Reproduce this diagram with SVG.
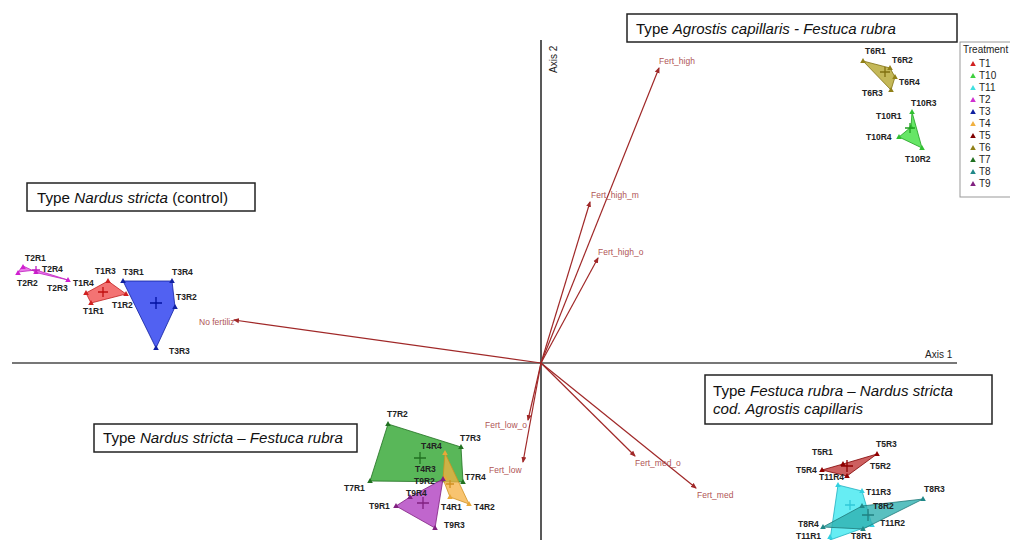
<svg xmlns="http://www.w3.org/2000/svg" xmlns:xlink="http://www.w3.org/1999/xlink" width="1010" height="540" viewBox="0 0 1010 540">
<style>
.pl{font-family:"Liberation Sans",Arial,sans-serif;font-size:8.5px;font-weight:bold;fill:#222}
.vl{font-family:"Liberation Sans",Arial,sans-serif;font-size:8.5px;fill:#b05555}
.vec{stroke:#a02828;stroke-width:1.2;fill:none;marker-end:url(#ah)}
.box{fill:#fff;stroke:#222;stroke-width:1.5}
.bt{font-family:"Liberation Sans",Arial,sans-serif;font-size:15px;fill:#111}
.ax{font-family:"Liberation Sans",Arial,sans-serif;font-size:10px;fill:#222}
.lg{font-family:"Liberation Sans",Arial,sans-serif;font-size:10px;fill:#222}
.cr{stroke-width:1.3;fill:none}
</style>
<defs>
<marker id="ah" markerWidth="6" markerHeight="6" refX="5" refY="3" orient="auto" markerUnits="userSpaceOnUse">
<path d="M0,0.5 L6,3 L0,5.5 Z" fill="#a02828"/>
</marker>
<path id="tri" d="M0,-3 L2.8,2 L-2.8,2 Z"/>
</defs>

<g id="axes">
<line x1="12" y1="363" x2="957" y2="363" stroke="#777" stroke-width="2"/>
<line x1="541" y1="40" x2="541" y2="540" stroke="#222" stroke-width="1.5"/>
<text class="ax" transform="translate(557,73) rotate(-90)">Axis 2</text>
<text class="ax" x="925" y="358">Axis 1</text>
</g>

<g id="connectors">
<line class="vec" x1="541" y1="363" x2="659" y2="68"/>
<line class="vec" x1="541" y1="363" x2="590" y2="202"/>
<line class="vec" x1="541" y1="363" x2="598" y2="258"/>
<line class="vec" x1="541" y1="363" x2="234" y2="320"/>
<line class="vec" x1="541" y1="363" x2="528" y2="420"/>
<line class="vec" x1="541" y1="363" x2="523" y2="462"/>
<line class="vec" x1="541" y1="363" x2="635" y2="456"/>
<line class="vec" x1="541" y1="363" x2="696" y2="488"/>
<text class="vl" x="659" y="64">Fert_high</text>
<text class="vl" x="591" y="198">Fert_high_m</text>
<text class="vl" x="598" y="255">Fert_high_o</text>
<text class="vl" x="199" y="325">No fertiliz</text>
<text class="vl" x="485" y="428">Fert_low_o</text>
<text class="vl" x="489" y="473">Fert_low</text>
<text class="vl" x="635" y="466">Fert_med_o</text>
<text class="vl" x="697" y="498">Fert_med</text>
</g>

<g id="box-agrostis">
<rect class="box" x="627" y="14" width="330" height="28"/>
<text class="bt" x="636" y="34" textLength="260" lengthAdjust="spacingAndGlyphs">Type <tspan font-style="italic">Agrostis capillaris - Festuca rubra</tspan></text>
</g>
<g id="box-nardus-control">
<rect class="box" x="27" y="183" width="228" height="28"/>
<text class="bt" x="37" y="203" textLength="191" lengthAdjust="spacingAndGlyphs">Type <tspan font-style="italic">Nardus stricta</tspan> (control)</text>
</g>
<g id="box-nardus-festuca">
<rect class="box" x="94" y="424" width="263" height="28"/>
<text class="bt" x="103" y="443" textLength="240" lengthAdjust="spacingAndGlyphs">Type <tspan font-style="italic">Nardus stricta – Festuca rubra</tspan></text>
</g>
<g id="box-festuca-nardus">
<rect class="box" x="705" y="375" width="287" height="49"/>
<text class="bt" x="713" y="396" textLength="240" lengthAdjust="spacingAndGlyphs">Type <tspan font-style="italic">Festuca rubra – Nardus stricta</tspan></text>
<text class="bt" x="713" y="414" font-style="italic" textLength="150" lengthAdjust="spacingAndGlyphs">cod. Agrostis capillaris</text>
</g>

<g id="T2">
<polygon points="23,266 18,272 36,270 68,280 38,273" fill="#e040e0" fill-opacity="0.7" stroke="#c020c0" stroke-width="0.8"/>
<g fill="#d020d0"><use xlink:href="#tri" x="23" y="267"/><use xlink:href="#tri" x="18" y="273"/><use xlink:href="#tri" x="36" y="272"/><use xlink:href="#tri" x="68" y="280"/></g>
<path class="cr" stroke="#c020c0" d="M32,270 h8 M36,266 v8"/>
<text class="pl" x="25" y="261">T2R1</text>
<text class="pl" x="42" y="272">T2R4</text>
<text class="pl" x="17" y="286">T2R2</text>
<text class="pl" x="47" y="291">T2R3</text>
</g>

<g id="T1">
<polygon points="86,293 108,281 126,294 91,303" fill="#f05050" fill-opacity="0.8" stroke="#c02020" stroke-width="0.8"/>
<g fill="#d02020"><use xlink:href="#tri" x="86" y="293"/><use xlink:href="#tri" x="108" y="281"/><use xlink:href="#tri" x="126" y="294"/><use xlink:href="#tri" x="91" y="303"/></g>
<path class="cr" stroke="#c01010" d="M98,292 h10 M103,287 v10"/>
<text class="pl" x="73" y="286">T1R4</text>
<text class="pl" x="95" y="274">T1R3</text>
<text class="pl" x="112" y="308">T1R2</text>
<text class="pl" x="83" y="314">T1R1</text>
</g>

<g id="T3">
<polygon points="123,281 172,281 175,307 156,348" fill="#3345f0" fill-opacity="0.85" stroke="#1020a0" stroke-width="0.8"/>
<g fill="#1020a0"><use xlink:href="#tri" x="123" y="281"/><use xlink:href="#tri" x="172" y="281"/><use xlink:href="#tri" x="175" y="307"/><use xlink:href="#tri" x="156" y="348"/></g>
<path class="cr" stroke="#0010a0" d="M150,303 h12 M156,297 v12"/>
<text class="pl" x="123" y="275">T3R1</text>
<text class="pl" x="172" y="275">T3R4</text>
<text class="pl" x="176" y="300">T3R2</text>
<text class="pl" x="169" y="354">T3R3</text>
</g>

<g id="T6">
<polygon points="863,61 890,68 895,77 891,90" fill="#b0a020" fill-opacity="0.75" stroke="#807010" stroke-width="0.8"/>
<g fill="#908018"><use xlink:href="#tri" x="863" y="61"/><use xlink:href="#tri" x="890" y="68"/><use xlink:href="#tri" x="895" y="77"/><use xlink:href="#tri" x="891" y="90"/></g>
<path class="cr" stroke="#807010" d="M880,72 h10 M885,67 v10"/>
<text class="pl" x="865" y="54">T6R1</text>
<text class="pl" x="892" y="63">T6R2</text>
<text class="pl" x="899" y="85">T6R4</text>
<text class="pl" x="862" y="96">T6R3</text>
</g>

<g id="T10">
<polygon points="912,112 911,127 899,137 922,148" fill="#40e040" fill-opacity="0.8" stroke="#20a020" stroke-width="0.8"/>
<g fill="#30c030"><use xlink:href="#tri" x="912" y="112"/><use xlink:href="#tri" x="911" y="127"/><use xlink:href="#tri" x="899" y="137"/><use xlink:href="#tri" x="922" y="148"/></g>
<path class="cr" stroke="#20a020" d="M905,128 h10 M910,123 v10"/>
<text class="pl" x="911" y="106">T10R3</text>
<text class="pl" x="876" y="119">T10R1</text>
<text class="pl" x="866" y="140">T10R4</text>
<text class="pl" x="905" y="162">T10R2</text>
</g>

<g id="T7">
<polygon points="388,424 461,447 463,482 370,481" fill="#3caa3c" fill-opacity="0.85" stroke="#207020" stroke-width="0.8"/>
<g fill="#207020"><use xlink:href="#tri" x="388" y="424"/><use xlink:href="#tri" x="461" y="447"/><use xlink:href="#tri" x="463" y="482"/><use xlink:href="#tri" x="370" y="481"/></g>
<path class="cr" stroke="#207020" d="M414,458 h12 M420,452 v12"/>
<text class="pl" x="387" y="417">T7R2</text>
<text class="pl" x="460" y="441">T7R3</text>
<text class="pl" x="465" y="480">T7R4</text>
<text class="pl" x="344" y="491">T7R1</text>
</g>

<g id="T4">
<polygon points="445,453 469,504 450,497 443,479" fill="#f5b040" fill-opacity="0.75" stroke="#d09020" stroke-width="0.8"/>
<g fill="#e8a838"><use xlink:href="#tri" x="445" y="453"/><use xlink:href="#tri" x="469" y="504"/><use xlink:href="#tri" x="450" y="497"/><use xlink:href="#tri" x="445" y="478"/></g>
<path class="cr" stroke="#d09020" d="M446,484 h8 M450,480 v8"/>
<text class="pl" x="421" y="449">T4R4</text>
<text class="pl" x="415" y="472">T4R3</text>
<text class="pl" x="441" y="510">T4R1</text>
<text class="pl" x="474" y="510">T4R2</text>
</g>

<g id="T9">
<polygon points="443,479 410,497 396,506 435,528" fill="#b040c0" fill-opacity="0.8" stroke="#802080" stroke-width="0.8"/>
<g fill="#802080"><use xlink:href="#tri" x="443" y="479"/><use xlink:href="#tri" x="410" y="497"/><use xlink:href="#tri" x="396" y="506"/><use xlink:href="#tri" x="435" y="528"/></g>
<path class="cr" stroke="#802080" d="M417,503 h12 M423,497 v12"/>
<text class="pl" x="414" y="484">T9R2</text>
<text class="pl" x="406" y="496">T9R4</text>
<text class="pl" x="369" y="509">T9R1</text>
<text class="pl" x="444" y="528">T9R3</text>
</g>

<g id="T5">
<polygon points="822,470 843,464 877,454 847,476" fill="#c03838" fill-opacity="0.8" stroke="#800000" stroke-width="0.8"/>
<g fill="#900000"><use xlink:href="#tri" x="822" y="470"/><use xlink:href="#tri" x="843" y="464"/><use xlink:href="#tri" x="877" y="454"/><use xlink:href="#tri" x="847" y="476"/></g>
<path class="cr" stroke="#900000" d="M841,466 h12 M847,460 v12"/>
<text class="pl" x="812" y="455">T5R1</text>
<text class="pl" x="876" y="447">T5R3</text>
<text class="pl" x="870" y="469">T5R2</text>
<text class="pl" x="796" y="473">T5R4</text>
</g>

<g id="T11">
<polygon points="838,485 862,491 872,525 830,540" fill="#40e8f0" fill-opacity="0.8" stroke="#20b0c0" stroke-width="0.8"/>
<g fill="#30d0e0"><use xlink:href="#tri" x="838" y="485"/><use xlink:href="#tri" x="862" y="491"/><use xlink:href="#tri" x="872" y="525"/><use xlink:href="#tri" x="830" y="537"/></g>
<path class="cr" stroke="#30c8d8" d="M845,505 h10 M850,500 v10"/>
<text class="pl" x="819" y="480">T11R4</text>
<text class="pl" x="866" y="495">T11R3</text>
<text class="pl" x="880" y="526">T11R2</text>
<text class="pl" x="796" y="539">T11R1</text>
</g>

<g id="T8">
<polygon points="923,499 862,506 823,527 863,529" fill="#30b0b0" fill-opacity="0.8" stroke="#207878" stroke-width="0.8"/>
<g fill="#208888"><use xlink:href="#tri" x="923" y="499"/><use xlink:href="#tri" x="862" y="506"/><use xlink:href="#tri" x="823" y="527"/><use xlink:href="#tri" x="863" y="529"/></g>
<path class="cr" stroke="#208080" d="M862,515 h12 M868,509 v12"/>
<text class="pl" x="924" y="492">T8R3</text>
<text class="pl" x="873" y="509">T8R2</text>
<text class="pl" x="798" y="527">T8R4</text>
<text class="pl" x="851" y="539">T8R1</text>
</g>

<g id="legend">
<rect x="960" y="42" width="60" height="155" fill="#fff" stroke="#999" stroke-width="1"/>
<text class="lg" x="963" y="53">Treatment</text>
<use xlink:href="#tri" x="973" y="64" fill="#d02020"/><text class="lg" x="979" y="67">T1</text>
<use xlink:href="#tri" x="973" y="76" fill="#40d040"/><text class="lg" x="979" y="79">T10</text>
<use xlink:href="#tri" x="973" y="88" fill="#40e0e0"/><text class="lg" x="979" y="91">T11</text>
<use xlink:href="#tri" x="973" y="100" fill="#d030d0"/><text class="lg" x="979" y="103">T2</text>
<use xlink:href="#tri" x="973" y="112" fill="#1020a0"/><text class="lg" x="979" y="115">T3</text>
<use xlink:href="#tri" x="973" y="124" fill="#f0b040"/><text class="lg" x="979" y="127">T4</text>
<use xlink:href="#tri" x="973" y="136" fill="#800000"/><text class="lg" x="979" y="139">T5</text>
<use xlink:href="#tri" x="973" y="148" fill="#908018"/><text class="lg" x="979" y="151">T6</text>
<use xlink:href="#tri" x="973" y="160" fill="#207020"/><text class="lg" x="979" y="163">T7</text>
<use xlink:href="#tri" x="973" y="172" fill="#208888"/><text class="lg" x="979" y="175">T8</text>
<use xlink:href="#tri" x="973" y="184" fill="#802080"/><text class="lg" x="979" y="187">T9</text>
</g>
</svg>
